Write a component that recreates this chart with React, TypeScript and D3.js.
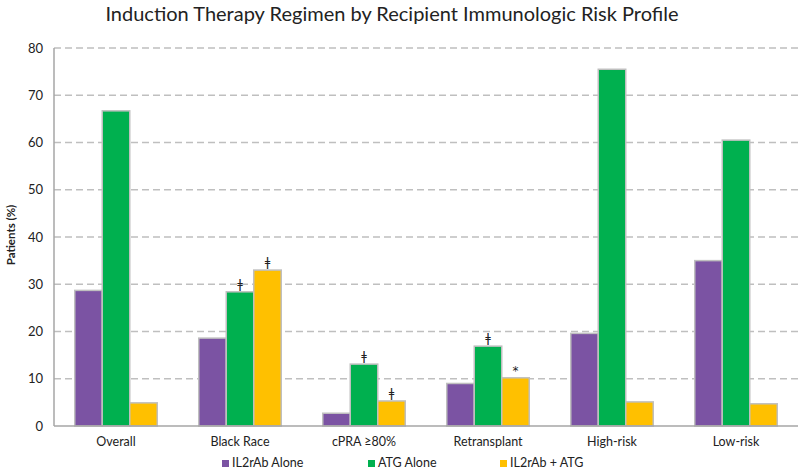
import React from "react";
import * as d3 from "d3";

const categories = ["Overall", "Black Race", "cPRA ≥80%", "Retransplant", "High-risk", "Low-risk"];
const seriesNames = ["IL2rAb Alone", "ATG Alone", "IL2rAb + ATG"];
const il2rab = [28.7, 18.6, 2.7, 9.0, 19.6, 35.0];
const atg = [66.7, 28.4, 13.1, 16.9, 75.5, 60.5];
const combo = [4.9, 33.0, 5.3, 10.2, 5.1, 4.7];
const yTicks = [0, 10, 20, 30, 40, 50, 60, 70, 80];
const colors = ["#7b53a3", "#00b04f", "#ffc000"];
const marks = [
  { cat: "Black Race", series: 1, mark: "ǂ" },
  { cat: "Black Race", series: 2, mark: "ǂ" },
  { cat: "cPRA ≥80%", series: 1, mark: "ǂ" },
  { cat: "cPRA ≥80%", series: 2, mark: "ǂ" },
  { cat: "Retransplant", series: 1, mark: "ǂ" },
  { cat: "Retransplant", series: 2, mark: "*" },
];

const W = 800;
const H = 470;
const M = { left: 54, right: 2, top: 48, bottom: 44 };
const FONT = "Lato, 'Open Sans', sans-serif";

export default function App() {
  const values = [il2rab, atg, combo];
  const x = d3.scaleBand().domain(categories).range([M.left, W - M.right]).paddingInner(0).paddingOuter(0);
  const bw = 27.5;
  const y = d3.scaleLinear().domain([0, 80]).range([H - M.bottom, M.top]);
  const y0 = y(0);
  const barX = (ci: number, si: number) => (x(categories[ci]) as number) + x.bandwidth() / 2 + (si - 1.5) * bw;

  const legendX = [222, 368, 500];

  return (
    <svg width={W} height={H} style={{ position: "absolute", left: 0, top: 0, background: "#fff" }}>
      <text x={392} y={21} textAnchor="middle" fontFamily={FONT} fontSize={20} fill="#222">
        Induction Therapy Regimen by Recipient Immunologic Risk Profile
      </text>
      {yTicks.filter((t) => t > 0).map((t) => (
        <line key={t} x1={M.left} x2={W - M.right} y1={y(t)} y2={y(t)} stroke="#bfbfbf" strokeWidth={1.5} strokeDasharray="7,4" />
      ))}
      {yTicks.map((t) => (
        <text key={t} x={43} y={y(t) + 4.5} textAnchor="end" fontFamily={FONT} fontSize={13} fill="#222">
          {t}
        </text>
      ))}
      <text transform={`translate(15,${(y(0) + y(80)) / 2 - 2}) rotate(-90)`} textAnchor="middle" fontFamily={FONT} fontSize={11.5} fontWeight="bold" fill="#222">
        Patients (%)
      </text>
      {values.map((vals, si) =>
        vals.map((v, ci) => (
          <rect key={`${si}-${ci}`} x={barX(ci, si)} y={y(v)} width={bw} height={y0 - y(v)} fill={colors[si]} stroke="#bfbfbf" strokeWidth={1.5} />
        ))
      )}
      <line x1={M.left} x2={M.left} y1={M.top} y2={y0} stroke="#a6a6a6" strokeWidth={1.5} />
      <line x1={M.left} x2={W - M.right} y1={y0} y2={y0} stroke="#a6a6a6" strokeWidth={1.5} />
      {categories.map((c) => (
        <text key={c} x={(x(c) as number) + x.bandwidth() / 2} y={446} textAnchor="middle" fontFamily={FONT} fontSize={12.5} fill="#222">
          {c}
        </text>
      ))}
      {marks.map((m, i) => {
        const ci = categories.indexOf(m.cat);
        const v = values[m.series][ci];
        return (
          <text key={i} x={barX(ci, m.series) + bw / 2} y={y(v) - (m.mark === "*" ? 3 : 4)} textAnchor="middle" fontFamily="'DejaVu Sans', sans-serif" fontSize={12} fill="#222">
            {m.mark}
          </text>
        );
      })}
      {seriesNames.map((s, i) => (
        <g key={s}>
          <rect x={legendX[i]} y={460} width={7} height={7} fill={colors[i]} />
          <text x={legendX[i] + 10} y={467} fontFamily={FONT} fontSize={12.5} fill="#222">
            {s}
          </text>
        </g>
      ))}
    </svg>
  );
}
